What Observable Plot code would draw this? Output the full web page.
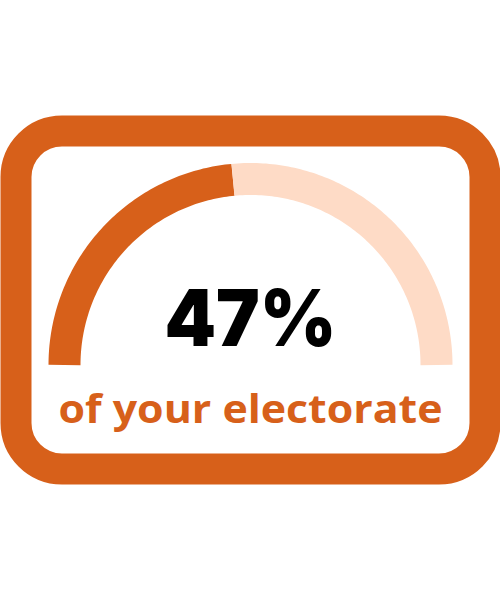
<!DOCTYPE html>
<html>
<head>
<meta charset="utf-8">
<script src="https://cdn.jsdelivr.net/npm/d3@7"></script>
<script src="https://cdn.jsdelivr.net/npm/@observablehq/plot@0.6"></script>
<style>
  html, body { margin: 0; padding: 0; background: #ffffff; }
  #chart svg { display: block; }
</style>
</head>
<body>
<div id="chart"></div>
<script>
// ---- data ----
const shareValue = [47];                 // percent of electorate
const segmentNames = ["share", "rest"];
const segmentColors = ["#D7601A", "#FEDBC6"];
const valueLabels = ["47%"];
const captionLabels = ["of your electorate"];

// ---- derived geometry (from data) ----
const total = 100;
const radius = 186;           // gauge centre-line radius in scale units (pixels)
const segments = [
  {name: segmentNames[0], from: 0, to: shareValue[0]},
  {name: segmentNames[1], from: shareValue[0], to: total}
];
const arcPoints = segments.flatMap(s => {
  const n = Math.max(2, Math.ceil((s.to - s.from) * 2));
  return d3.range(n + 1).map(i => {
    const v = s.from + (s.to - s.from) * i / n;
    const a = Math.PI * (1 - v / total);
    return {name: s.name, x: radius * Math.cos(a), y: radius * Math.sin(a)};
  });
});

const chart = Plot.plot({
  width: 500,
  height: 600,
  marginTop: 115,
  marginBottom: 116,
  marginLeft: 0,
  marginRight: 0,
  x: {domain: [-250, 250], axis: null},
  y: {domain: [-119.5, 249.5], axis: null},
  color: {domain: segmentNames, range: segmentColors},
  style: {background: "#ffffff"},
  marks: [
    Plot.frame({stroke: segmentColors[0], strokeWidth: 31, rx: 46, inset: 15.5}),
    Plot.line(arcPoints, {x: "x", y: "y", z: "name", stroke: "name", strokeWidth: 32, strokeLinecap: "butt", strokeLinejoin: "round"}),
    Plot.text(valueLabels, {x: () => 0, y: () => 19.5, text: d => d, lineAnchor: "bottom", fontSize: 78, fontWeight: 900, fontFamily: "Inter", fill: "#000000", className: "value-label"}),
    Plot.text(captionLabels, {x: () => 0, y: () => -57.5, text: d => d, lineAnchor: "bottom", fontSize: 40, fontWeight: 700, fontFamily: "Open Sans", fill: segmentColors[0], className: "caption-label"})
  ]
});
// fit text widths to the reference
chart.querySelectorAll(".value-label text").forEach(t => { t.setAttribute("textLength", 172); t.setAttribute("lengthAdjust", "spacingAndGlyphs"); });
chart.querySelectorAll(".caption-label text").forEach(t => { t.setAttribute("textLength", 384); t.setAttribute("lengthAdjust", "spacingAndGlyphs"); });
document.getElementById("chart").appendChild(chart);
</script>
</body>
</html>
